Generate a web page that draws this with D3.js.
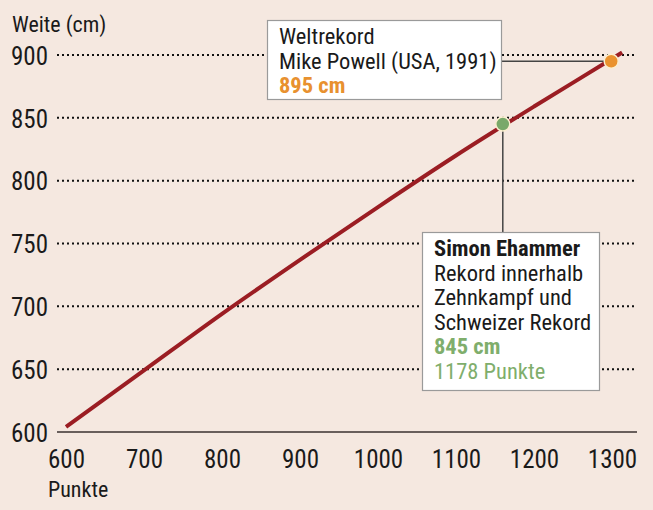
<!DOCTYPE html>
<html><head><meta charset="utf-8">
<script src="https://cdn.jsdelivr.net/npm/d3@7"></script>
<style>
html,body{margin:0;padding:0;background:#f5e8e0;}
svg{display:block;}
text{font-family:"Liberation Sans Narrow","Arial Narrow","Roboto Condensed","Liberation Sans",sans-serif;fill:#1a1a1a;}
</style></head>
<body>
<svg id="chart" width="653" height="510"></svg>
<script>
// ---- data ----
const xTicks = [600, 700, 800, 900, 1000, 1100, 1200, 1300];
const yTicks = [600, 650, 700, 750, 800, 850, 900];
const linePunkte = [600, 700, 800, 900, 1000, 1100, 1200, 1300, 1313];
const lineWeite  = [604, 649, 694, 737, 779, 820, 859, 897, 902];
const pointNames  = ["Weltrekord", "Simon Ehammer"];
const pointPunkte = [1299, 1160];
const pointWeite  = [895, 845];
const yTitle = "Weite (cm)";
const xTitle = "Punkte";
const note1 = ["Weltrekord", "Mike Powell (USA, 1991)", "895 cm"];
const note2 = ["Simon Ehammer", "Rekord innerhalb", "Zehnkampf und", "Schweizer Rekord", "845 cm", "1178 Punkte"];

// ---- layout ----
const svg = d3.select("#chart");
svg.append("rect").attr("width", 653).attr("height", 510).attr("fill", "#f5e8e0");

const x = d3.scaleLinear().domain([600, 1300]).range([66, 612]);
const y = d3.scaleLinear().domain([600, 900]).range([432, 55]);
const gridX0 = 57, gridX1 = 637;

// gridlines
svg.append("g").selectAll("line").data(yTicks.filter(d => d > 600)).join("line")
  .attr("x1", gridX0).attr("x2", gridX1)
  .attr("y1", d => y(d)).attr("y2", d => y(d))
  .attr("stroke", "#111").attr("stroke-width", 2)
  .attr("stroke-dasharray", "2 3");

// baseline axis
svg.append("line").attr("x1", gridX0).attr("x2", gridX1)
  .attr("y1", y(600)).attr("y2", y(600))
  .attr("stroke", "#3a3230").attr("stroke-width", 1.6);

// y axis labels
const yAxis = svg.append("g").attr("transform", "translate(48,0)")
  .call(d3.axisLeft(y).tickValues(yTicks).tickSize(0).tickPadding(0).tickFormat(d3.format("d")));
yAxis.select(".domain").remove();
yAxis.selectAll("text").attr("x", 0).attr("dy", "0.37em")
  .style("font-size", "25px").style("font-family", null).attr("fill", "#1a1a1a");

// x axis labels
const xAxis = svg.append("g").attr("transform", "translate(0,432)")
  .call(d3.axisBottom(x).tickValues(xTicks).tickSize(0).tickPadding(0).tickFormat(d3.format("d")));
xAxis.select(".domain").remove();
xAxis.selectAll("text").attr("y", 36).attr("dy", 0)
  .style("font-size", "25px").style("font-family", null).attr("fill", "#1a1a1a");

// titles
svg.append("text").attr("x", 12).attr("y", 32).style("font-size", "22px").text(yTitle);
svg.append("text").attr("x", 48).attr("y", 497).style("font-size", "22px").text(xTitle);

// line
const lineData = linePunkte.map((p, i) => [p, lineWeite[i]]);
svg.append("path").datum(lineData)
  .attr("d", d3.line().x(d => x(d[0])).y(d => y(d[1])).curve(d3.curveMonotoneX))
  .attr("fill", "none").attr("stroke", "#9b1d23").attr("stroke-width", 4);

// connectors
const p1 = [x(pointPunkte[0]), y(pointWeite[0])];
const p2 = [x(pointPunkte[1]), y(pointWeite[1])];
const box1 = {x: 267, y: 20, w: 234, h: 79};
const box2 = {x: 422, y: 232, w: 177, h: 158};
svg.append("line").attr("x1", box1.x + box1.w).attr("x2", p1[0]).attr("y1", p1[1]).attr("y2", p1[1])
  .attr("stroke", "#444").attr("stroke-width", 1.5);
svg.append("line").attr("x1", p2[0]).attr("x2", p2[0]).attr("y1", p2[1]).attr("y2", box2.y)
  .attr("stroke", "#444").attr("stroke-width", 1.5);

// points
const colors = ["#ea922e", "#79a96a"];
svg.append("g").selectAll("circle").data(pointNames).join("circle")
  .attr("cx", (d, i) => x(pointPunkte[i])).attr("cy", (d, i) => y(pointWeite[i]))
  .attr("r", 7).attr("fill", (d, i) => colors[i])
  .attr("stroke", "#fbeed0").attr("stroke-width", 1.5);

// boxes
function box(b, lines, styles) {
  svg.append("rect").attr("x", b.x + 0.5).attr("y", b.y + 0.5).attr("width", b.w).attr("height", b.h)
    .attr("fill", "#fff").attr("stroke", "#9a9a9a").attr("stroke-width", 1.2);
  lines.forEach((t, i) => {
    const s = styles[i] || {};
    svg.append("text").attr("x", b.x + 12).attr("y", b.y + 24 + i * 24.6)
      .style("font-size", "22.5px").style("font-weight", s.bold ? "bold" : "normal")
      .attr("fill", s.color || "#1a1a1a").style("fill", s.color || "#1a1a1a").text(t);
  });
}
box(box1, note1, [{}, {}, {bold: true, color: "#e8912f"}]);
box(box2, note2, [{bold: true}, {}, {}, {}, {bold: true, color: "#7fae6c"}, {color: "#7fae6c"}]);
</script>
</body></html>
